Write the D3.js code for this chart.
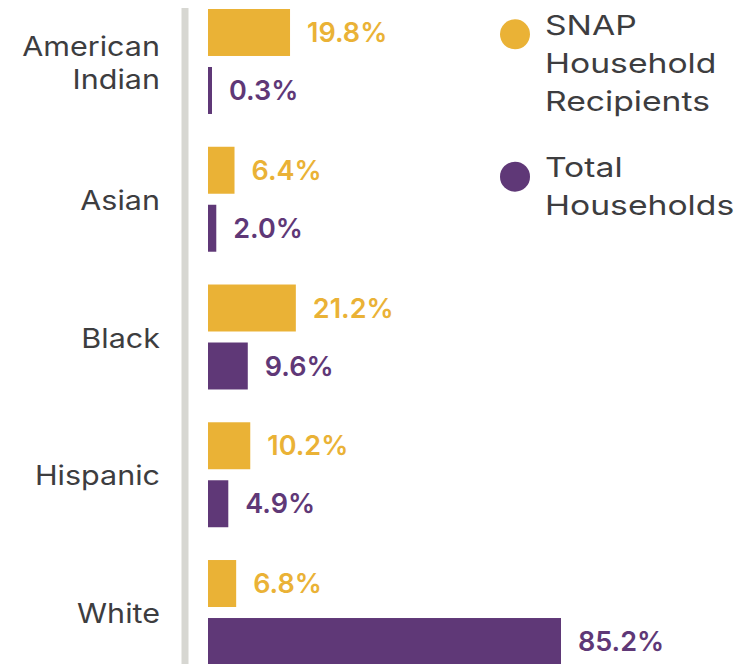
<!DOCTYPE html>
<html>
<head>
<meta charset="utf-8">
<script src="https://cdn.jsdelivr.net/npm/d3@7"></script>
<style>
html,body{margin:0;padding:0;background:#fff;}
svg{display:block;}
</style>
</head>
<body>
<svg id="chart" width="749" height="664"></svg>
<script>
const categories = ["American Indian", "Asian", "Black", "Hispanic", "White"];
const categoryLines = [["American", "Indian"], ["Asian"], ["Black"], ["Hispanic"], ["White"]];
const seriesKeys = ["snap", "total"];
const seriesNames = ["SNAP Household Recipients", "Total Households"];
const legendLines = [["SNAP", "Household", "Recipients"], ["Total", "Households"]];
const snapValues = [19.8, 6.4, 21.2, 10.2, 6.8];
const totalValues = [0.3, 2.0, 9.6, 4.9, 85.2];

const colors = {snap: "#EAB236", total: "#5F3877"};
const FONT = "Inter, 'Noto Sans', sans-serif";

const rows = categories.map((c, i) => ({
  category: c, lines: categoryLines[i],
  values: [{key: "snap", v: snapValues[i]}, {key: "total", v: totalValues[i]}]
}));

const svg = d3.select("#chart");

const x = d3.scaleLinear().domain([0, 85.2]).range([208, 561]);
const y = d3.scaleBand().domain(categories).range([9, 665]).paddingInner(0.238).paddingOuter(0);
const ySub = d3.scaleBand().domain(seriesKeys).range([0, y.bandwidth()]).paddingInner(0.19).paddingOuter(0);
const color = d3.scaleOrdinal().domain(seriesKeys).range([colors.snap, colors.total]);

// axis line
svg.append("line")
  .attr("x1", 185).attr("x2", 185)
  .attr("y1", 8).attr("y2", 664)
  .attr("stroke", "#D7D7D2").attr("stroke-width", 7);

const g = svg.selectAll("g.cat").data(rows).join("g")
  .attr("class", "cat")
  .attr("transform", d => `translate(0,${y(d.category)})`);

g.selectAll("rect").data(d => d.values).join("rect")
  .attr("x", x(0))
  .attr("y", d => ySub(d.key))
  .attr("width", d => Math.max(4, x(d.v) - x(0)))
  .attr("height", ySub.bandwidth())
  .attr("fill", d => color(d.key));

g.selectAll("text.val").data(d => d.values).join("text")
  .attr("class", "val")
  .attr("x", d => x(0) + Math.max(4, x(d.v) - x(0)) + 17)
  .attr("y", d => ySub(d.key) + ySub.bandwidth() / 2)
  .attr("dy", "0.36em")
  .attr("fill", d => color(d.key))
  .style("font-family", FONT)
  .style("font-size", "27px")
  .style("font-weight", 600)
  .text(d => d.v.toFixed(1) + "%");

// category labels
const lh = 32.6;
g.append("g")
  .attr("transform", `translate(160,0) scale(1.13,1)`)
  .append("text")
  .attr("class", "catlabel")
  .attr("text-anchor", "end")
  .attr("fill", "#3D3D3F")
  .style("font-family", FONT)
  .style("font-size", "27px")
  .style("font-weight", 400)
  .each(function(d) {
    const n = d.lines.length;
    const t = d3.select(this);
    d.lines.forEach((ln, i) => {
      t.append("tspan")
        .attr("x", 0)
        .attr("y", y.bandwidth() / 2 + (i - (n - 1) / 2) * lh + 1)
        .attr("dy", "0.36em")
        .text(ln);
    });
  });

// legend
const legendY = [34.3, 176.7];
const legend = svg.selectAll("g.leg").data(seriesKeys).join("g")
  .attr("class", "leg")
  .attr("transform", (d, i) => `translate(515,${legendY[i]})`);
legend.append("circle").attr("r", 15).attr("fill", d => color(d));
legend.append("g")
  .attr("transform", "translate(30,0) scale(1.225,1)")
  .append("text")
  .attr("fill", "#3D3D3F")
  .style("font-family", FONT)
  .style("font-size", "27.5px")
  .style("font-weight", 400)
  .each(function(d, i) {
    const t = d3.select(this);
    legendLines[i].forEach((ln, j) => {
      t.append("tspan")
        .attr("x", 0)
        .attr("y", -9.5 + j * 38.3)
        .attr("dy", "0.36em")
        .text(ln);
    });
  });
</script>
</body>
</html>
